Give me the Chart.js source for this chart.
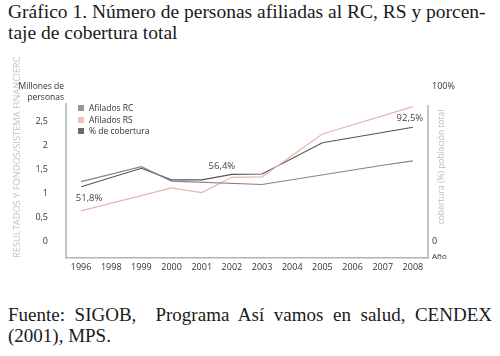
<!DOCTYPE html>
<html>
<head>
<meta charset="utf-8">
<script src="https://cdn.jsdelivr.net/npm/chart.js@4/dist/chart.umd.min.js"></script>
<style>
html,body{margin:0;padding:0;background:#fff;}
body{width:500px;height:356px;position:relative;overflow:hidden;font-family:"Open Sans",sans-serif;}
.serif{font-family:"Liberation Serif","Times New Roman",serif;font-size:19.5px;color:#1a1a1a;position:absolute;left:8px;}
#title{top:1px;line-height:21px;width:492px;white-space:nowrap;}
#source{top:304px;line-height:21px;width:484px;font-size:19px;}
#source .l1{text-align:justify;text-align-last:justify;white-space:nowrap;}
#wrap{position:absolute;left:0;top:55px;width:500px;height:235px;}
#unit{position:absolute;right:436px;top:80px;text-align:right;font-size:8.5px;line-height:11px;color:#333;white-space:nowrap;}
#anio{position:absolute;left:432px;top:250px;font-size:8px;color:#333;}
#rtitle{position:absolute;left:440px;top:167px;transform:translate(-50%,-50%) rotate(-90deg);font-size:8.5px;color:#bdbdbd;white-space:nowrap;}
#legend{position:absolute;left:78px;top:102px;font-size:8.5px;line-height:11.5px;color:#333;}
#legend .sw{display:inline-block;width:6px;height:6px;margin-right:5px;vertical-align:0px;}
</style>
</head>
<body>
<div id="title" class="serif">Gráfico 1. Número de personas afiliadas al RC, RS y porcen-<br>taje de cobertura total</div>
<div id="wrap"><canvas id="c" width="500" height="235"></canvas></div>
<div id="unit">Millones de<br>personas</div>
<div id="rtitle">cobertura (%) población total</div>
<div id="anio">Año</div>
<div id="legend"></div>
<div id="source" class="serif"><div class="l1">Fuente: SIGOB,&nbsp; Programa Así vamos en salud, CENDEX</div><div>(2001), MPS.</div></div>
<script>
const years = ['1996','1998','1999','2000','2001','2002','2003','2004','2005','2006','2007','2008'];
// Millones de personas (eje izquierdo)
const afiliadosRC = [1.24, null, 1.55, 1.25, null, null, 1.18, null, null, null, 1.58, 1.67];
const afiliadosRS = [0.63, null, null, 1.11, 1.01, 1.33, 1.34, null, 2.23, null, null, 2.80];
// Cobertura (eje derecho, %)
const cobertura = [35.0, null, 46.9, 39.4, 39.4, 43.0, 43.2, null, 63.4, null, null, 73.4];
const leftTicks = [0, 0.5, 1, 1.5, 2, 2.5];
const rightTicks = [0, 100];
const noteYears = ['1996', '2002', '2008'];
const noteTexts = ['51,8%', '56,4%', '92,5%'];
const seriesNames = ['Afilados RC', 'Afilados RS', '% de cobertura'];
const lineColors = ['#8e7e89', '#e3b8ab', '#555555'];
const swatchColors = ['#a29299', '#f1c3b6', '#6a6a6a'];

const noteOffsets = [[8, 12], [-10, -8], [-3, -9]];

const notesPlugin = {
  id: 'notes',
  afterDatasetsDraw(chart) {
    const ctx = chart.ctx;
    const meta = chart.getDatasetMeta(2);
    ctx.save();
    ctx.font = '9.5px "Open Sans", sans-serif';
    ctx.fillStyle = '#444';
    ctx.textAlign = 'center';
    ctx.textBaseline = 'middle';
    noteYears.forEach((yr, i) => {
      const idx = years.indexOf(yr);
      const pt = meta.data[idx];
      ctx.fillText(noteTexts[i], pt.x + noteOffsets[i][0], pt.y + noteOffsets[i][1]);
    });
    ctx.restore();
  }
};

const axisLinesPlugin = {
  id: 'axisLines',
  beforeDatasetsDraw(chart) {
    const a = chart.chartArea, ctx = chart.ctx;
    ctx.save();
    ctx.strokeStyle = '#b3b3b3';
    ctx.lineWidth = 1.5;
    ctx.beginPath();
    ctx.moveTo(a.left, a.top + 17); ctx.lineTo(a.left, a.bottom);
    ctx.moveTo(a.right, a.top + 19); ctx.lineTo(a.right, a.bottom);
    ctx.stroke();
    ctx.restore();
  }
};

const tickFont = {family: '"Open Sans", sans-serif', size: 9};

const chart = new Chart(document.getElementById('c'), {
  type: 'line',
  data: {
    labels: years,
    datasets: [
      {label: seriesNames[0], data: afiliadosRC, yAxisID: 'y', borderColor: lineColors[0]},
      {label: seriesNames[1], data: afiliadosRS, yAxisID: 'y', borderColor: lineColors[1]},
      {label: seriesNames[2], data: cobertura, yAxisID: 'y2', borderColor: lineColors[2]}
    ]
  },
  options: {
    responsive: false,
    animation: false,
    devicePixelRatio: 1,
    spanGaps: true,
    layout: {padding: {left: 12, right: 12, top: 31, bottom: 12}},
    elements: {line: {borderWidth: 1.2, tension: 0}, point: {radius: 0}},
    plugins: {legend: {display: false}, tooltip: {enabled: false}},
    scales: {
      x: {
        offset: true,
        grid: {display: false, drawTicks: false},
        border: {display: true, color: '#b3b3b3', width: 1.5},
        ticks: {font: tickFont, color: '#333', padding: 4, maxRotation: 0, autoSkip: false},
        afterFit(s) { s.height = 20; }
      },
      y: {
        position: 'left',
        min: -0.35, max: 3.23,
        grid: {display: false, drawTicks: false},
        border: {display: false},
        afterBuildTicks(s) { s.ticks = leftTicks.map(v => ({value: v})); },
        ticks: {font: tickFont, color: '#333', padding: 18,
          callback: v => String(v).replace('.', ',')},
        title: {display: true, text: 'RESULTADOS Y FONDOS/SISTEMA FINANCIERC', align: 'start',
          color: '#c2c2c2', font: {family: '"Open Sans", sans-serif', size: 9.3}, padding: 0},
        afterFit(s) { s.width = 54; }
      },
      y2: {
        position: 'right',
        min: -11, max: 100,
        grid: {display: false, drawTicks: false},
        border: {display: false},
        afterBuildTicks(s) { s.ticks = rightTicks.map(v => ({value: v})); },
        ticks: {font: tickFont, color: '#333', padding: 4,
          callback: v => v === 100 ? '100%' : String(v)},
        afterFit(s) { s.width = 60; }
      }
    }
  },
  plugins: [notesPlugin, axisLinesPlugin]
});

const lg = document.getElementById('legend');
chart.data.datasets.forEach((ds, i) => {
  const row = document.createElement('div');
  const sw = document.createElement('span');
  sw.className = 'sw';
  sw.style.background = swatchColors[i];
  row.appendChild(sw);
  row.appendChild(document.createTextNode(ds.label));
  lg.appendChild(row);
});
</script>
</body>
</html>
